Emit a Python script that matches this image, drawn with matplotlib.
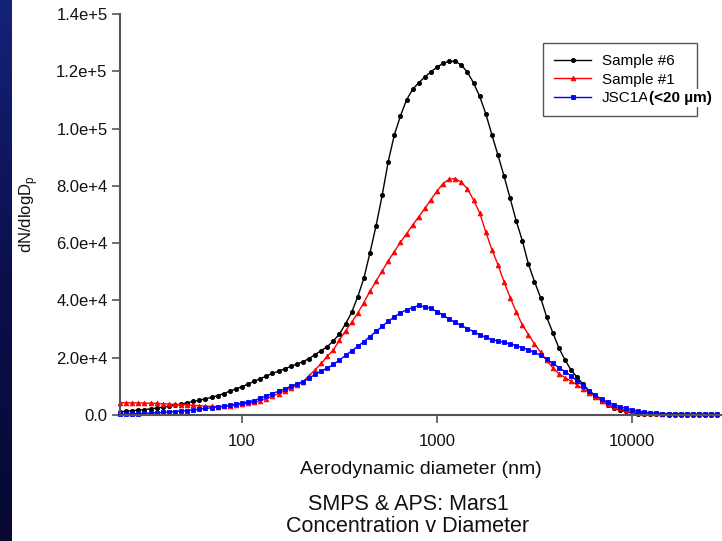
import matplotlib
matplotlib.use("Agg")
import matplotlib.pyplot as plt
import numpy as np
from matplotlib.colors import LinearSegmentedColormap
from matplotlib.ticker import NullLocator
from matplotlib.transforms import IdentityTransform

# ---------------- data ----------------
diameter_nm = [
    23.71, 25.48, 27.38, 29.43, 31.62, 33.98, 36.52, 39.24, 42.17, 45.32,
    48.70, 52.33, 56.23, 60.43, 64.94, 69.78, 74.99, 80.58, 86.60, 93.06,
    100.0, 107.5, 115.5, 124.1, 133.4, 143.3, 154.0, 165.5, 177.8, 191.1,
    205.4, 220.7, 237.1, 254.8, 273.8, 294.3, 316.2, 339.8, 365.2, 392.4,
    421.7, 453.2, 487.0, 523.3, 562.3, 604.3, 649.4, 697.8, 749.9, 805.8,
    866.0, 930.6,
    1000, 1075, 1155, 1241, 1334, 1433, 1540, 1655, 1778, 1911,
    2054, 2207, 2371, 2548, 2738, 2943, 3162, 3398, 3652, 3924,
    4217, 4532, 4870, 5233, 5623, 6043, 6494, 6978, 7499, 8058,
    8660, 9306,
    10000, 10746, 11548, 12409, 13335, 14330, 15399, 16548, 17783, 19110,
    20535, 22067, 23714, 25483, 27384,
]

sample6 = [
    1100, 1300, 1500, 1700, 1900, 2130, 2430, 2750, 3070, 3400,
    3750, 4250, 4720, 5180, 5650, 6160, 6770, 7500, 8300, 9100,
    9900, 10830, 11750, 12680, 13600, 14520, 15290, 16120, 16960, 17780,
    18610, 19710, 21100, 22490, 23880, 25880, 28300, 31860, 35860, 41300,
    47760, 56670, 66060, 76670, 88500, 97800, 104400, 110000, 113700, 116000,
    118000, 119800,
    121450, 122790, 123500, 123500, 122140, 119650, 115930, 111240, 105240, 97860,
    90720, 83400, 75670, 67780, 60870, 52700, 46600, 40980, 34150, 28770,
    23390, 19250, 15690, 13140, 10650, 8370, 6590, 4920, 3560, 2290,
    1760, 1230,
    690, 500, 370, 250, 220, 190, 160, 130, 100, 90,
    80, 70, 65, 60, 55,
]

sample1 = [
    4300, 4260, 4230, 4190, 4150, 4110, 4040, 3930, 3820, 3710,
    3610, 3500, 3370, 3230, 3090, 3020, 2930, 3030, 3230, 3460,
    3750, 4050, 4370, 5050, 5730, 6580, 7490, 8400, 9440, 10530,
    11630, 13690, 15790, 17990, 20490, 22700, 26200, 29430, 32390, 35590,
    39270, 43200, 46740, 50280, 53810, 57080, 60300, 63300, 66300, 69200,
    72100, 75200,
    78200, 80810, 82320, 82520, 81230, 78940, 75030, 70540, 63940, 57760,
    52500, 46450, 41020, 36000, 31490, 28080, 24770, 21940, 19070, 16490,
    14400, 13080, 11770, 10490, 9140, 7760, 6330, 4980, 3870, 2840,
    2310, 1770,
    1240, 985, 790, 600, 560, 520, 480, 440, 400, 390,
    380, 370, 365, 360, 355,
]

jsc1a = [
    300, 375, 450, 520, 600, 670, 790, 930, 1070, 1220,
    1360, 1510, 1760, 2010, 2270, 2530, 2780, 3000, 3390, 3780,
    4170, 4550, 5060, 5870, 6670, 7480, 8290, 9100, 9990, 10820,
    11640, 12900, 14170, 15380, 16370, 17650, 19170, 20810, 22430, 23950,
    25630, 27400, 29170, 30950, 32750, 34260, 35670, 36710, 37520, 38240,
    37730, 37210,
    36110, 34870, 33440, 32320, 31250, 30190, 29120, 28050, 27130, 26350,
    25830, 25330, 24840, 24200, 23520, 22790, 21880, 20860, 19430, 17990,
    16560, 15150, 13680, 11910, 10130, 8360, 6880, 5550, 4510, 3660,
    2920, 2370,
    1830, 1310, 1010, 810, 620, 475, 410, 350, 300, 290,
    270, 250, 240, 220, 210,
]

series_labels = ["Sample #6", "Sample #1", "JSC1A"]
legend_suffix = "(<20 µm)"

y_ticks = [0, 20000, 40000, 60000, 80000, 100000, 120000, 140000]
y_tick_labels = ["0.0", "2.0e+4", "4.0e+4", "6.0e+4", "8.0e+4",
                 "1.0e+5", "1.2e+5", "1.4e+5"]
x_ticks = [100, 1000, 10000]
x_tick_labels = ["100", "1000", "10000"]

x_label = "Aerodynamic diameter (nm)"
y_label = r"dN/dlogD$_\mathregular{p}$"
title_lines = ["SMPS & APS: Mars1", "Concentration v Diameter"]

# ---------------- figure ----------------
plt.rcParams['font.family'] = ['Liberation Sans', 'DejaVu Sans']
plt.rcParams['mathtext.fontset'] = 'custom'
plt.rcParams['mathtext.rm'] = 'Liberation Sans'

W, H = 722, 541
fig = plt.figure(figsize=(W / 100, H / 100), dpi=100)
fig.patch.set_facecolor('white')

# dark blue slide band on the left
band = fig.add_axes([0, 0, 12 / W, 1])
grad = np.linspace(0, 1, 256).reshape(-1, 1)
cmap = LinearSegmentedColormap.from_list('band', ['#15227a', '#0b0f4c', '#070932'])
band.imshow(grad, aspect='auto', cmap=cmap, extent=[0, 1, 0, 1], origin='upper')
band.axis('off')

ax_left, ax_top, ax_bottom = 120, 14, 415
ax = fig.add_axes([ax_left / W, 1 - ax_bottom / H, 1 - ax_left / W, (ax_bottom - ax_top) / H])
ax.set_facecolor('white')

styles = [
    dict(color='black', marker='o', ms=3.0),
    dict(color='#ff0000', marker='^', ms=3.4),
    dict(color='#0000ff', marker='s', ms=3.2),
]
for vals, lab, st in zip([sample6, sample1, jsc1a], series_labels, styles):
    ax.plot(diameter_nm, vals, lw=1.0, label=lab, clip_on=False,
            markeredgewidth=0.6, **st)

ax.set_xscale('log')
ax.set_xlim(23.68, 28940)
ax.set_ylim(0, 140000)

for s in ['top', 'right']:
    ax.spines[s].set_visible(False)
for s in ['left', 'bottom']:
    ax.spines[s].set_color('#555555')
    ax.spines[s].set_linewidth(1.5)

ax.set_xticks(x_ticks)
ax.set_xticklabels(x_tick_labels)
ax.xaxis.set_minor_locator(NullLocator())
ax.set_yticks(y_ticks)
ax.set_yticklabels(y_tick_labels)
ax.tick_params(axis='both', direction='out', length=6, width=1.2,
               color='#555555', labelsize=12, labelcolor='#111111')
ax.tick_params(axis='x', pad=8)
ax.tick_params(axis='y', pad=3)

ax.set_xlabel(x_label, fontsize=14, color='#111111')
ax.xaxis.label.set_va('center')
ax.xaxis.set_label_coords(0.5, (ax_bottom - 470) / (ax_bottom - ax_top))

ax.set_ylabel(y_label, fontsize=12, color='#111111')
ax.yaxis.label.set_va('center')
ax.yaxis.set_label_coords((29 - ax_left) / (W - ax_left), 0.5)

leg_w = (697 - 543) / (W - ax_left)
leg_x = (543 - ax_left) / (W - ax_left)
leg_top = (ax_bottom - 43) / (ax_bottom - ax_top)
leg = ax.legend(loc='upper left', bbox_to_anchor=(leg_x, leg_top - 0.2, leg_w, 0.2),
                mode='expand', borderaxespad=0, fontsize=11, numpoints=1,
                handlelength=2.4, handletextpad=0.7, labelspacing=0.28,
                borderpad=0.75, fancybox=False, framealpha=1,
                edgecolor='#555555')
leg.get_frame().set_linewidth(1.0)

fig.canvas.draw()
txt = leg.get_texts()[2]
bb = txt.get_window_extent(fig.canvas.get_renderer())
_, ty = txt.get_transform().transform(txt.get_position())
fig.text(bb.x1, ty, legend_suffix, transform=IdentityTransform(),
         ha='left', va=txt.get_va(), fontsize=11, fontweight='bold',
         color='black', zorder=10,
         bbox=dict(facecolor='white', edgecolor='none', pad=1.5))

fig.text(408 / W, 1 - 505 / H, title_lines[0], ha='center', va='center',
         fontsize=15.5, color='#111111')
fig.text(408 / W, 1 - 527 / H, title_lines[1], ha='center', va='center',
         fontsize=15.5, color='#111111')

fig.savefig('out.png', dpi=100)
